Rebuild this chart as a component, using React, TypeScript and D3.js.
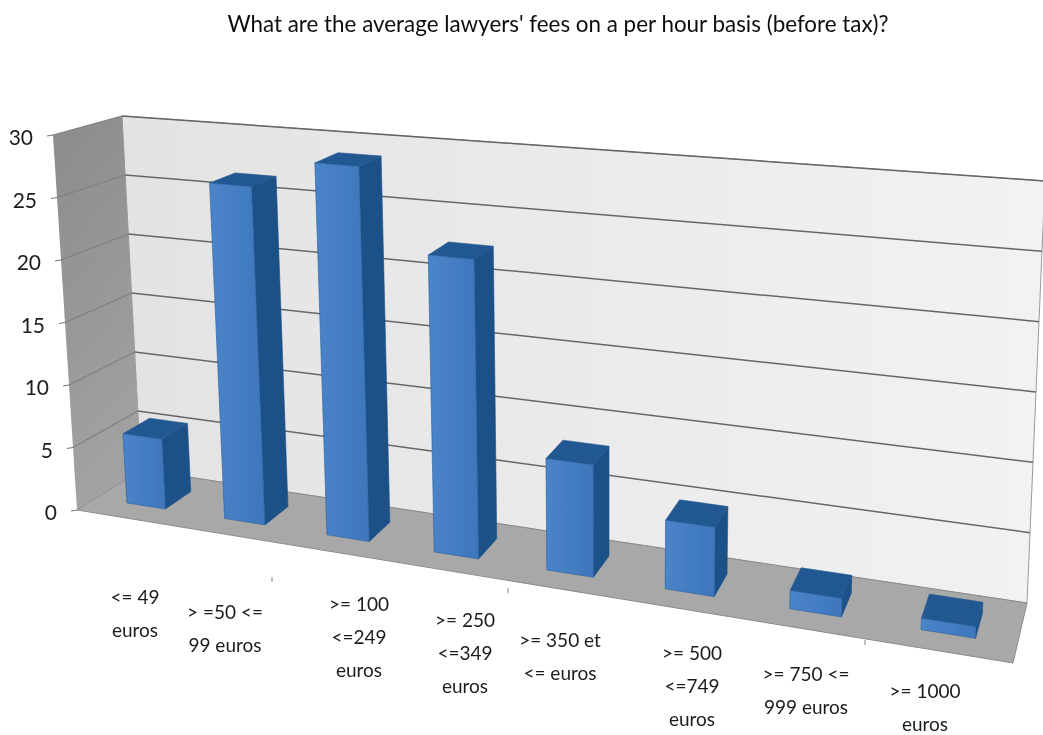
import React from "react";
import * as d3 from "d3";

const chartTitle = "What are the average lawyers' fees on a per hour basis (before tax)?";
const categories = ["c1", "c2", "c3", "c4", "c5", "c6", "c7", "c8"];
const values = [5.6, 26.6, 28.9, 22.6, 8.3, 5.0, 1.3, 0.8];
const categoryLines = [
  ["<= 49", "euros"],
  ["> =50 <=", "99 euros"],
  [">= 100", "<=249", "euros"],
  [">= 250", "<=349", "euros"],
  [">= 350 et", "<= euros"],
  [">= 500", "<=749", "euros"],
  [">= 750 <=", "999 euros"],
  [">= 1000", "euros"],
];
const yTicks = [0, 5, 10, 15, 20, 25, 30];

// Layout of the projected box
type P = [number, number];
const frontLeft0: P = [77, 510];
const frontLeftTop: P = [53, 135];
const backLeft0: P = [141, 470];
const backLeftTop: P = [122, 116];
const frontRight0: P = [1013, 663];
const frontRightTop: P = [1030, 218];
const backRight0: P = [1027, 603];
const backRightTop: P = [1045, 181];
const labelCenters = [135, 225, 359, 465, 560, 692, 806, 925];
const labelBaselines = [604, 619, 611, 627, 647, 660, 681, 698];
const lineGap = 33;
const strayTicks: P[] = [[272, 577], [508, 588], [865, 640]];

const vScale = d3.scaleLinear().domain([0, 30]).range([0, 1]);
const band = d3.scaleBand<string>().domain(categories).range([0.003, 1]).paddingInner(0.6).paddingOuter(0.3);
const K = 1.22;
const persp = (s: number) => s / (s + K * (1 - s));
const mix = (a: P, b: P, t: number): P => [a[0] + (b[0] - a[0]) * t, a[1] + (b[1] - a[1]) * t];

// s: position along categories (0..1), w: depth (0 front, 1 back), v: value
function project(s: number, w: number, v: number): P {
  const t = persp(s);
  const h = vScale(v);
  const left = mix(mix(frontLeft0, backLeft0, w), mix(frontLeftTop, backLeftTop, w), h);
  const right = mix(mix(frontRight0, backRight0, w), mix(frontRightTop, backRightTop, w), h);
  return mix(left, right, t);
}
const lineGen = d3.line<P>().x((d) => d[0]).y((d) => d[1]);
const poly = (pts: P[]) => lineGen(pts) + "Z";

const W1 = 0.3;
const W2 = 0.72;
const textFont = "Lato, 'Open Sans', sans-serif";

export default function App() {
  return (
    <svg width={1043} height={735} viewBox="0 0 1043 735" style={{ position: "absolute", left: 0, top: 0, background: "#fff" }}>
      <defs>
        <linearGradient id="wall" x1="0" x2="1" y1="0" y2="0">
          <stop offset="0" stopColor="#e3e3e3" />
          <stop offset="1" stopColor="#f2f2f2" />
        </linearGradient>
        <linearGradient id="side" x1="0" x2="0.25" y1="0" y2="1">
          <stop offset="0" stopColor="#8b8b8b" />
          <stop offset="1" stopColor="#a2a2a2" />
        </linearGradient>
        <linearGradient id="front" x1="0" x2="1" y1="0" y2="0">
          <stop offset="0" stopColor="#4a84c9" />
          <stop offset="1" stopColor="#3e76bc" />
        </linearGradient>
        <filter id="soft" x="-5%" y="-5%" width="110%" height="110%">
          <feGaussianBlur stdDeviation="0.6" />
        </filter>
      </defs>
      <text x={558} y={32} textAnchor="middle" fontFamily={textFont} fontSize={22.4} fill="#111" filter="url(#soft)">
        {chartTitle}
      </text>
      <g filter="url(#soft)">
        <path d={poly([project(0, 1, 0), project(1, 1, 0), project(1, 1, 30), project(0, 1, 30)])} fill="url(#wall)" stroke="#9a9a9a" />
        <path d={poly([project(0, 0, 0), project(0, 1, 0), project(0, 1, 30), project(0, 0, 30)])} fill="url(#side)" />
        <path d={poly([project(0, 0, 0), project(1, 0, 0), project(1, 1, 0), project(0, 1, 0)])} fill="#a8a8a8" stroke="#8c8c8c" />
        {yTicks.map((v) => {
          const a = project(0, 0, v);
          const b = project(0, 1, v);
          const c = project(1, 1, v);
          return (
            <g key={v}>
              {v > 0 && <line x1={a[0]} y1={a[1]} x2={b[0]} y2={b[1]} stroke="#7f7f7f" strokeWidth={1.2} />}
              {v > 0 && <line x1={b[0]} y1={b[1]} x2={c[0]} y2={c[1]} stroke="#666" strokeWidth={1.5} />}
              <line x1={a[0] - 6} y1={a[1] + 1} x2={a[0]} y2={a[1]} stroke="#777" strokeWidth={1.2} />
            </g>
          );
        })}
        {strayTicks.map((p, i) => (
          <line key={i} x1={p[0]} y1={p[1]} x2={p[0]} y2={p[1] + 5} stroke="#999" strokeWidth={1.2} />
        ))}
        {categories.map((c, i) => {
          const s1 = band(c) as number;
          const s2 = s1 + band.bandwidth();
          const v = values[i];
          return (
            <g key={c} stroke="#2a5f9f" strokeWidth={0.6} strokeLinejoin="round">
              <path d={poly([project(s2, W1, 0), project(s2, W2, 0), project(s2, W2, v), project(s2, W1, v)])} fill="#1c5188" stroke="#1c5188" />
              <path d={poly([project(s1, W1, v), project(s2, W1, v), project(s2, W2, v), project(s1, W2, v)])} fill="#245891" stroke="#245891" />
              <path d={poly([project(s1, W1, 0), project(s2, W1, 0), project(s2, W1, v), project(s1, W1, v)])} fill="url(#front)" />
            </g>
          );
        })}
      </g>
      <g fontFamily={textFont} fill="#1c1c1c" filter="url(#soft)">
        {yTicks.map((v) => {
          const a = project(0, 0, v);
          return (
            <text key={v} x={a[0] - 20} y={a[1] + 10} textAnchor="end" fontSize={21}>
              {v}
            </text>
          );
        })}
        {categoryLines.map((lines, i) =>
          lines.map((l, j) => (
            <text key={j} x={labelCenters[i]} y={labelBaselines[i] + j * lineGap} textAnchor="middle" fontSize={19}>
              {l}
            </text>
          )),
        )}
      </g>
    </svg>
  );
}
